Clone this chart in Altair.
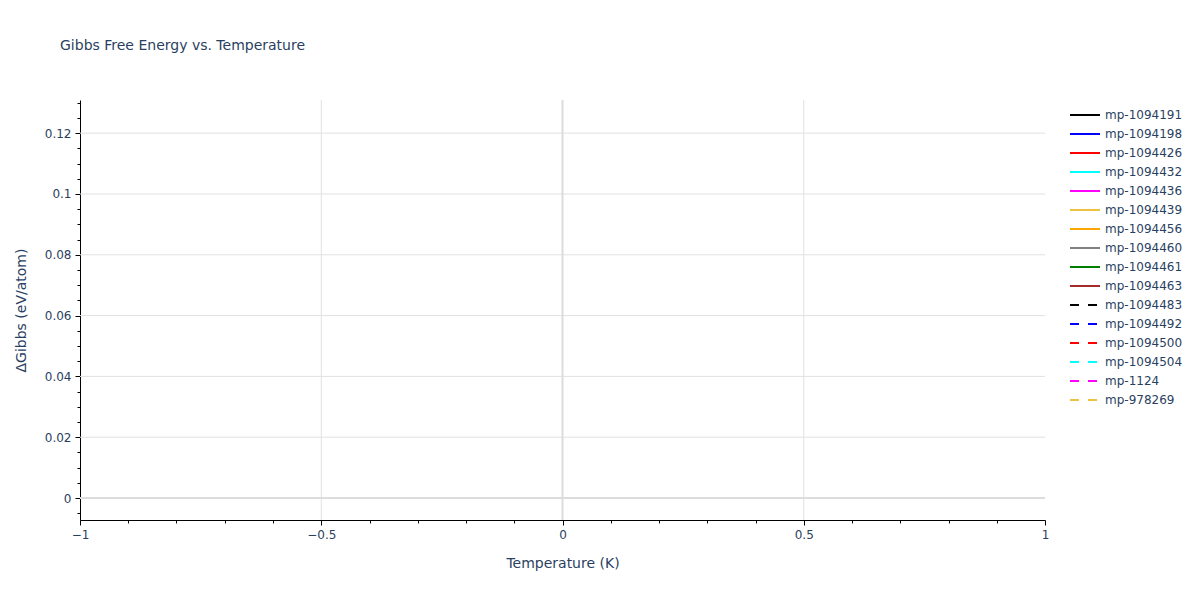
import pandas as pd
import altair as alt

# materials and their single (T, dG) point each
series = ['mp-1094191', 'mp-1094198', 'mp-1094426', 'mp-1094432', 'mp-1094436',
          'mp-1094439', 'mp-1094456', 'mp-1094460', 'mp-1094461', 'mp-1094463',
          'mp-1094483', 'mp-1094492', 'mp-1094500', 'mp-1094504', 'mp-1124', 'mp-978269']
temps = [0, 0, 0, 0, 0, 0, 0, 0, 0, 0, 0, 0, 0, 0, 0, 0]
gibbs = [0.0, 0.012, 0.025, 0.031, 0.044, 0.052, 0.06, 0.067, 0.074, 0.081,
         0.09, 0.097, 0.104, 0.111, 0.118, 0.125]
colors = ['black', 'blue', 'red', 'cyan', 'magenta', '#eec240', 'orange', 'gray',
          'green', 'brown', 'black', 'blue', 'red', 'cyan', 'magenta', '#eec240']
dashes = [[1, 0]] * 10 + [[9, 9]] * 6

x_major = [-1, -0.5, 0, 0.5, 1]
x_minor = [-0.9, -0.8, -0.7, -0.6, -0.4, -0.3, -0.2, -0.1,
           0.1, 0.2, 0.3, 0.4, 0.6, 0.7, 0.8, 0.9]
x_grid = [-0.5, 0.5]
y_major = [0, 0.02, 0.04, 0.06, 0.08, 0.1, 0.12]
y_minor = [-0.005, 0.005, 0.01, 0.015, 0.025, 0.03, 0.035, 0.045, 0.05, 0.055,
           0.065, 0.07, 0.075, 0.085, 0.09, 0.095, 0.105, 0.11, 0.115, 0.125, 0.13]
y_grid = [0.02, 0.04, 0.06, 0.08, 0.1, 0.12]
zero = [0]

df = pd.DataFrame({'material': series, 'T': temps, 'G': gibbs})

TXT = '#2a3f5f'
FONT = 'DejaVu Sans'
xs = alt.Scale(domain=[-1, 1], nice=False, zero=False)
ys = alt.Scale(domain=[-0.00723, 0.1309], nice=False, zero=False)

leg = dict(title=None, orient='none', legendX=994, legendY=4,
           symbolType='M-1.5,0H1.5', symbolSize=400, symbolStrokeWidth=2,
           labelFontSize=12, labelFont=FONT, labelColor=TXT, labelOffset=9,
           rowPadding=2)

lines = alt.Chart(df).mark_line(strokeWidth=2).encode(
    x=alt.X('T:Q', scale=xs, title='Temperature (K)',
            axis=alt.Axis(values=x_major, format='~g', grid=False, orient='bottom',
                          tickSize=5, tickColor='black', domainColor='black',
                          labelFlush=False,
                          labelFontSize=12, labelColor=TXT, labelFont=FONT, labelPadding=4,
                          titleFontSize=14, titleColor=TXT, titleFont=FONT,
                          titleFontWeight='normal', titlePadding=16)),
    y=alt.Y('G:Q', scale=ys, title='ΔGibbs (eV/atom)',
            axis=alt.Axis(values=y_major, format='~g', grid=False, orient='left',
                          tickSize=5, tickColor='black', domainColor='black',
                          labelFontSize=12, labelColor=TXT, labelFont=FONT, labelPadding=4,
                          titleFontSize=14, titleColor=TXT, titleFont=FONT,
                          titleFontWeight='normal', titlePadding=16)),
    color=alt.Color('material:N', scale=alt.Scale(domain=series, range=colors),
                    legend=alt.Legend(**leg)),
    strokeDash=alt.StrokeDash('material:N', scale=alt.Scale(domain=series, range=dashes),
                              legend=alt.Legend(**leg)),
)

# minor ticks
gx = pd.DataFrame({'v': x_minor})
minor_x = alt.Chart(gx).mark_point(opacity=0).encode(
    x=alt.X('v:Q', scale=xs, title=None,
            axis=alt.Axis(values=x_minor, labels=False, grid=False, domain=False,
                          orient='bottom', tickSize=3, tickColor='black')))
gy = pd.DataFrame({'v': y_minor})
minor_y = alt.Chart(gy).mark_point(opacity=0).encode(
    y=alt.Y('v:Q', scale=ys, title=None,
            axis=alt.Axis(values=y_minor, labels=False, grid=False, domain=False,
                          orient='left', tickSize=3, tickColor='black')))

# grid lines and zero lines
grid_x = alt.Chart(pd.DataFrame({'v': x_grid})).mark_rule(color='#e1e1e1', strokeWidth=1).encode(
    x=alt.X('v:Q', scale=xs, axis=None))
grid_y = alt.Chart(pd.DataFrame({'v': y_grid})).mark_rule(color='#e1e1e1', strokeWidth=1).encode(
    y=alt.Y('v:Q', scale=ys, axis=None))
zero_x = alt.Chart(pd.DataFrame({'v': zero})).mark_rule(color='#dcdcdc', strokeWidth=2).encode(
    x=alt.X('v:Q', scale=xs, axis=None))
zero_y = alt.Chart(pd.DataFrame({'v': zero})).mark_rule(color='#dcdcdc', strokeWidth=2).encode(
    y=alt.Y('v:Q', scale=ys, axis=None))

chart = alt.layer(grid_x, grid_y, zero_x, zero_y, minor_x, minor_y, lines).resolve_axis(
    x='independent', y='independent'
).resolve_legend(color='shared', strokeDash='shared').properties(
    width=965,
    height=420,
    autosize=alt.AutoSizeParams(type='none'),
    padding={'left': 72, 'top': 92, 'right': 147, 'bottom': 72},
    title=alt.TitleParams('Gibbs Free Energy vs. Temperature', anchor='start', frame='group',
                          dx=-20, offset=39, baseline='middle', fontSize=14,
                          fontWeight='normal', font=FONT, color=TXT),
).configure_view(stroke=None)

chart.save("out.html", embed_options={"renderer": "svg", "actions": False})
